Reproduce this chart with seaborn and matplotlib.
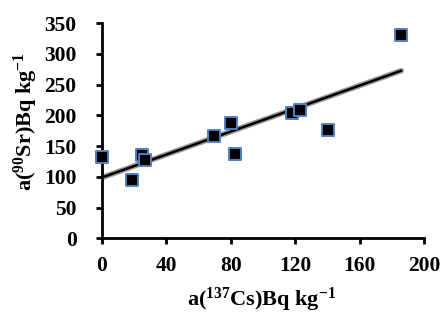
import matplotlib
matplotlib.use("Agg")
import matplotlib.pyplot as plt
import numpy as np
import pandas as pd
import seaborn as sns

# activity of 137Cs vs 90Sr (Bq/kg)
cs137 = [0, 18.6, 24.8, 26.9, 69.8, 80.2, 82.6, 118.2, 122.9, 140.5, 185.8]
sr90 = [132, 95, 135, 127, 166.5, 187.6, 137.8, 204, 209, 175.7, 330]

x_ticks = [0, 40, 80, 120, 160, 200]
y_ticks = [0, 50, 100, 150, 200, 250, 300, 350]

df = pd.DataFrame({"cs": cs137, "sr": sr90})

sns.set_style("ticks")
plt.rcParams.update({
    "font.family": ["Liberation Serif", "DejaVu Serif"],
    "font.weight": "bold",
    "text.color": "black",
    "axes.labelcolor": "black",
    "xtick.major.pad": 9,
    "ytick.major.pad": 14,
    "mathtext.fontset": "custom",
    "mathtext.rm": "Liberation Serif:bold",
    "mathtext.it": "Liberation Serif:bold",
    "mathtext.bf": "Liberation Serif:bold",
})

fig = plt.figure(figsize=(4.46, 3.2), dpi=100)
ax = fig.add_axes([0.228, 0.2553, 0.723, 0.6727])

# shadow under the trendline, then trendline + points
sns.regplot(data=df, x="cs", y="sr", ax=ax, ci=None, scatter=False,
            line_kws={"color": "#9a9a9a", "lw": 4.0, "zorder": 2})
sns.regplot(data=df, x="cs", y="sr", ax=ax, ci=None, marker="s",
            scatter_kws={"s": 78, "color": "black", "edgecolors": "#4F81BD",
                         "linewidths": 1.4, "alpha": 1, "zorder": 4,
                         "clip_on": False},
            line_kws={"color": "black", "lw": 1.8, "zorder": 3})

ax.set_xlim(0, 200)
ax.set_ylim(0, 350)
ax.set_xticks(x_ticks)
ax.set_yticks(y_ticks)

for side in ["top", "right"]:
    ax.spines[side].set_visible(False)
for side in ["left", "bottom"]:
    ax.spines[side].set_linewidth(2.0)
    ax.spines[side].set_color("black")

ax.tick_params(axis="both", direction="out", length=4, width=2.0,
               labelsize=15.5, colors="black")
for lbl in ax.get_xticklabels() + ax.get_yticklabels():
    lbl.set_fontweight("bold")

ax.set_xlabel(r"a($^{137}$Cs)Bq kg$^{-1}$", fontsize=16, fontweight="bold")
ax.set_ylabel(r"a($^{90}$Sr)Bq kg$^{-1}$", fontsize=16, fontweight="bold")
ax.xaxis.label.set_va("center")
ax.yaxis.label.set_va("center")
ax.xaxis.set_label_coords(0.497, -0.285)
ax.yaxis.set_label_coords(-0.235, 0.54)

fig.savefig("out.png", dpi=100)
